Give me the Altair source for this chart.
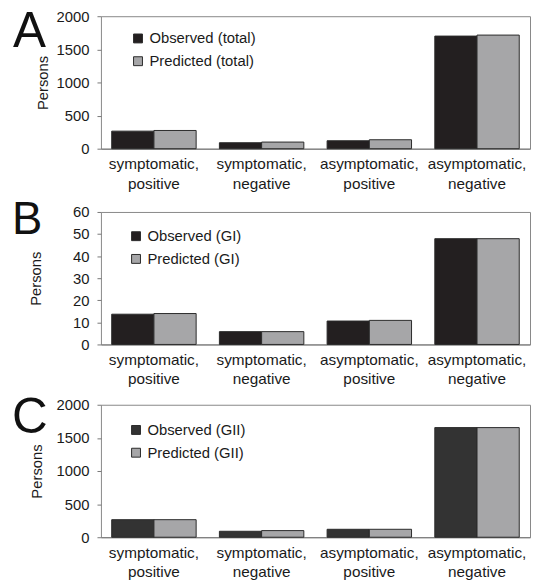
import altair as alt
import pandas as pd

categories = ["symptomatic, positive", "symptomatic, negative",
              "asymptomatic, positive", "asymptomatic, negative"]

a_observed = [265, 90, 120, 1700]
a_predicted = [275, 100, 135, 1715]
b_observed = [13.7, 5.8, 10.6, 47.9]
b_predicted = [14.0, 5.8, 10.9, 47.9]
c_observed = [265, 90, 120, 1655]
c_predicted = [265, 100, 120, 1655]

a_ticks = [0, 500, 1000, 1500, 2000]
b_ticks = [0, 10, 20, 30, 40, 50, 60]
c_ticks = [0, 500, 1000, 1500, 2000]

FONT = "Liberation Sans"
PRED_COLOR = "#a6a6a8"
W, H = 434, 134
PAD_IN, PAD_OUT = 0.216, 0.1
HALF_SHIFT = W / (4 - PAD_IN + 2 * PAD_OUT) * (1 - PAD_IN) / 4


def panel(letter, obs, pred, obs_label, pred_label, obs_color, ticks,
          title_x, letter_size, letter_x, letter_y, leg_x, leg_y):
    df = pd.DataFrame({
        "cat": categories * 2,
        "series": [obs_label] * 4 + [pred_label] * 4,
        "value": list(obs) + list(pred),
    })
    base = alt.Chart(df).encode(
        x=alt.X("cat:N", sort=categories, title=None,
                scale=alt.Scale(paddingInner=PAD_IN, paddingOuter=PAD_OUT),
                axis=alt.Axis(labelAngle=0, ticks=False, domain=True,
                              domainColor="#777", labelFont=FONT,
                              labelFontSize=15.5, labelColor="#1a1a1a",
                              labelPadding=8, labelLineHeight=20,
                              labelOverlap=False,
                              labelExpr="[split(datum.label, ', ')[0] + ',', split(datum.label, ', ')[1]]")),
        y=alt.Y("value:Q", title="Persons",
                scale=alt.Scale(domain=[ticks[0], ticks[-1]], nice=False),
                axis=alt.Axis(values=ticks, format="d", grid=False, domain=False,
                              ticks=True, tickSize=4, tickColor="#777",
                              labelFont=FONT, labelFontSize=15,
                              labelColor="#1a1a1a", labelPadding=8,
                              titleFont=FONT, titleFontSize=15,
                              titleFontWeight="normal", titleColor="#1a1a1a",
                              titleX=title_x)),
        fill=alt.Fill("series:N",
                      scale=alt.Scale(domain=[obs_label, pred_label],
                                      range=[obs_color, PRED_COLOR]),
                      legend=alt.Legend(title=None, orient="none",
                                        legendX=leg_x, legendY=leg_y,
                                        symbolType="square", symbolSize=81,
                                        symbolStrokeColor="#2a2a2a",
                                        symbolStrokeWidth=1,
                                        labelFont=FONT, labelFontSize=15,
                                        labelColor="#1a1a1a", labelOffset=4,
                                        rowPadding=7, padding=0)),
    )
    b_obs = base.transform_filter(alt.datum.series == obs_label).mark_bar(
        width=alt.RelativeBandSize(0.5), xOffset=-HALF_SHIFT,
        stroke="#2a2a2a", strokeWidth=1)
    b_pred = base.transform_filter(alt.datum.series == pred_label).mark_bar(
        width=alt.RelativeBandSize(0.5), xOffset=HALF_SHIFT,
        stroke="#2a2a2a", strokeWidth=1)
    lab = alt.Chart(pd.DataFrame({"t": [letter]})).mark_text(
        align="left", baseline="top", font=FONT,
        fontSize=letter_size, color="#111"
    ).encode(text="t:N", x=alt.value(letter_x), y=alt.value(letter_y))
    return alt.layer(b_obs, b_pred, lab).properties(width=W, height=H)


pa = panel("A", a_observed, a_predicted, "Observed (total)", "Predicted (total)",
           "#231f20", a_ticks, -51, 50, -89, -8.7, 30, 15)
pb = panel("B", b_observed, b_predicted, "Observed (GI)", "Predicted (GI)",
           "#231f20", b_ticks, -58, 46, -90, -13.4, 28, 17)
pc = panel("C", c_observed, c_predicted, "Observed (GII)", "Predicted (GII)",
           "#333333", c_ticks, -57, 50, -90, -11, 28, 18)

chart = alt.vconcat(pa, pb, pc, spacing=5).resolve_scale(
    fill="independent").resolve_legend(fill="independent").properties(
    padding={"left": 3, "top": -5, "right": 0, "bottom": 0}
).configure_view(stroke="#888", strokeWidth=1)

chart.save("out.html", embed_options={"renderer": "svg", "actions": False})
